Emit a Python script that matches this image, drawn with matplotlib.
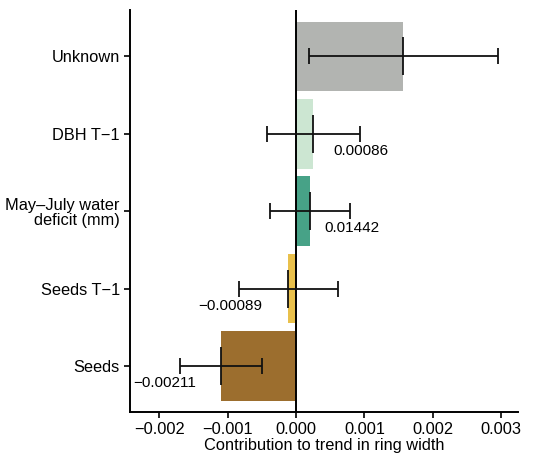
import matplotlib
matplotlib.use("Agg")
import matplotlib.pyplot as plt

plt.rcParams['font.family'] = ['Liberation Sans', 'DejaVu Sans']

# data, bottom to top
labels = ["Seeds", "Seeds T\u22121", "May\u2013July water\ndeficit (mm)", "DBH T\u22121", "Unknown"]
values = [-0.00110, -0.000112, 0.000205, 0.000254, 0.00157]
err_lo = [-0.00170, -0.00083, -0.00038, -0.00043, 0.00019]
err_hi = [-0.00050, 0.000615, 0.000786, 0.00094, 0.00296]
colors = ["#9c6e2e", "#e9c04b", "#47a287", "#cce6d2", "#b2b4b1"]
notes = ["\u22120.00211", "\u22120.00089", "0.01442", "0.00086", ""]
note_x = [-0.00239, -0.00097, 0.00042, 0.00054, 0]
note_ha = ['left', 'center', 'left', 'left', 'left']

fig = plt.figure(figsize=(5.37, 4.58), dpi=100)
ax = fig.add_axes([0.2412, 0.0998, 0.7234, 0.8782])

y = list(range(len(labels)))
ax.barh(y, values, height=0.9, color=colors, zorder=1)
ax.axvline(0, color="black", lw=1.4, zorder=2)

for i in y:
    ax.errorbar(values[i], i, xerr=[[values[i] - err_lo[i]], [err_hi[i] - values[i]]],
                fmt='none', ecolor="#111111", elinewidth=1.3, capsize=5.5, capthick=1.3, zorder=3)
    ax.plot(values[i], i, marker='|', markersize=28, mew=1.3, color="#111111", zorder=3)
    if notes[i]:
        ax.text(note_x[i], i - 0.22, notes[i], ha=note_ha[i], va='center', fontsize=11)

ax.set_yticks(y)
ax.set_yticklabels(labels, fontsize=11.8, linespacing=1.05)
ax.set_xticks([-0.002, -0.001, 0.0, 0.001, 0.002, 0.003])
ax.set_xticklabels(["\u22120.002", "\u22120.001", "0.000", "0.001", "0.002", "0.003"], fontsize=11.8)
ax.set_xlim(-0.002438, 0.00325)
ax.set_ylim(-0.6, 4.6)
ax.set_xlabel("Contribution to trend in ring width", fontsize=11.8, labelpad=1)

for s in ['top', 'right']:
    ax.spines[s].set_visible(False)
for s in ['left', 'bottom']:
    ax.spines[s].set_linewidth(1.4)
ax.tick_params(axis='both', width=1.2, length=4, pad=3)

plt.savefig("out.png", dpi=100)
